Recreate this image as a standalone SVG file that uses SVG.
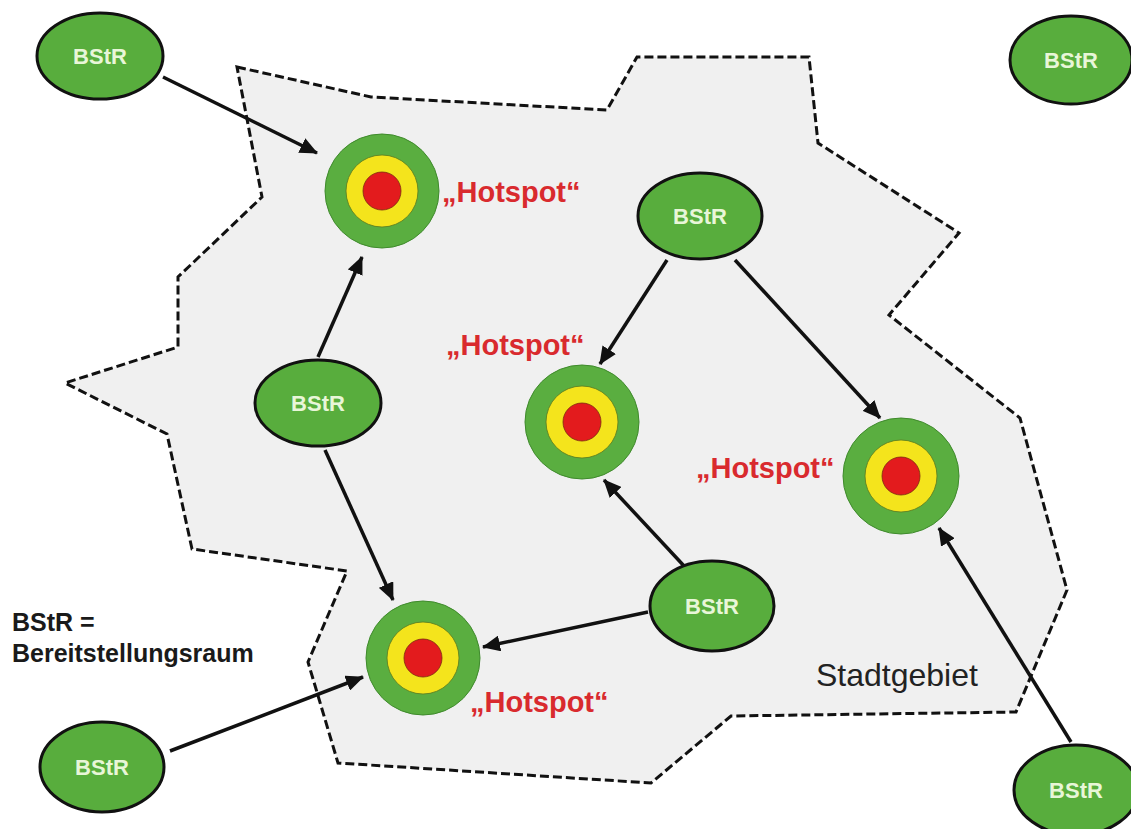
<svg xmlns="http://www.w3.org/2000/svg" width="1131" height="829" viewBox="0 0 1131 829">
<defs>
<style>
.bstr ellipse{fill:#58ad3d;stroke:#111;stroke-width:3}
.bstr text{font-family:"Liberation Sans",Arial,sans-serif;font-weight:bold;font-size:22px;fill:#e8f6d8;text-anchor:middle}
.hs .o{fill:#5aae40;stroke:#3f8a2c;stroke-width:1}
.hs .y{fill:#f4e41c;stroke:#5a7a20;stroke-width:0.8}
.hs .r{fill:#e31b1d;stroke:#7a2a10;stroke-width:0.8}
.lbl{font-family:"Liberation Sans",Arial,sans-serif;font-weight:bold;font-size:29px;fill:#d92a2e}
.conn line{stroke:#111;stroke-width:3.5;marker-end:url(#ah)}
</style>
<marker id="ah" markerUnits="userSpaceOnUse" markerWidth="18" markerHeight="16" refX="17" refY="8" orient="auto">
<path d="M0,0 L18,8 L0,16 z" fill="#111"/>
</marker>
</defs>
<rect width="1131" height="829" fill="#fff"/>
<g id="stadtgebiet">
<polygon points="237,67 371,97 607,110 637,57 809,57 818,143 959,233 889,315 1020,418 1067,590 1016,712 731,716 651,783 338,763 308,662 347,571 192,549 167,434 65,383 178,347 178,277 262,197" fill="#f0f0f0" stroke="#111" stroke-width="3" stroke-dasharray="9,4"/>
<text x="816" y="686" font-family="'Liberation Sans',Arial,sans-serif" font-size="32" fill="#222">Stadtgebiet</text>
</g>
<g id="legend" font-family="'Liberation Sans',Arial,sans-serif" font-weight="bold" font-size="25" fill="#1a1a1a">
<text x="12" y="631">BStR =</text>
<text x="12" y="662">Bereitstellungsraum</text>
</g>
<g id="connectors" class="conn">
<line x1="163" y1="77" x2="317" y2="153"/>
<line x1="318" y1="357" x2="362" y2="257"/>
<line x1="325" y1="450" x2="393" y2="600"/>
<line x1="667" y1="260" x2="600" y2="364"/>
<line x1="735" y1="260" x2="880" y2="418"/>
<line x1="685" y1="567" x2="604" y2="480"/>
<line x1="648" y1="612" x2="483" y2="647"/>
<line x1="170" y1="751" x2="363" y2="677"/>
<line x1="1071" y1="742" x2="939" y2="528"/>
</g>
<g id="hotspot1" class="hs">
<circle class="o" cx="382" cy="191" r="57"/><circle class="y" cx="382" cy="191" r="36"/><circle class="r" cx="382" cy="191" r="19"/>
<text class="lbl" x="442" y="202">„Hotspot“</text>
</g>
<g id="hotspot2" class="hs">
<circle class="o" cx="582" cy="422" r="57"/><circle class="y" cx="582" cy="422" r="36"/><circle class="r" cx="582" cy="422" r="19"/>
<text class="lbl" x="446" y="355">„Hotspot“</text>
</g>
<g id="hotspot3" class="hs">
<circle class="o" cx="901" cy="476" r="58"/><circle class="y" cx="901" cy="476" r="36"/><circle class="r" cx="901" cy="476" r="19"/>
<text class="lbl" x="696" y="478">„Hotspot“</text>
</g>
<g id="hotspot4" class="hs">
<circle class="o" cx="423" cy="658" r="57"/><circle class="y" cx="423" cy="658" r="36"/><circle class="r" cx="423" cy="658" r="19"/>
<text class="lbl" x="470" y="712">„Hotspot“</text>
</g>
<g id="bstr1" class="bstr"><ellipse cx="100" cy="56" rx="63" ry="43"/><text x="100" y="64">BStR</text></g>
<g id="bstr2" class="bstr"><ellipse cx="1071" cy="60" rx="61" ry="44"/><text x="1071" y="68">BStR</text></g>
<g id="bstr3" class="bstr"><ellipse cx="700" cy="216" rx="62" ry="43"/><text x="700" y="224">BStR</text></g>
<g id="bstr4" class="bstr"><ellipse cx="318" cy="403" rx="63" ry="43"/><text x="318" y="411">BStR</text></g>
<g id="bstr5" class="bstr"><ellipse cx="712" cy="606" rx="62" ry="45"/><text x="712" y="614">BStR</text></g>
<g id="bstr6" class="bstr"><ellipse cx="102" cy="767" rx="62" ry="45"/><text x="102" y="775">BStR</text></g>
<g id="bstr7" class="bstr"><ellipse cx="1076" cy="790" rx="62" ry="45"/><text x="1076" y="798">BStR</text></g>
</svg>
